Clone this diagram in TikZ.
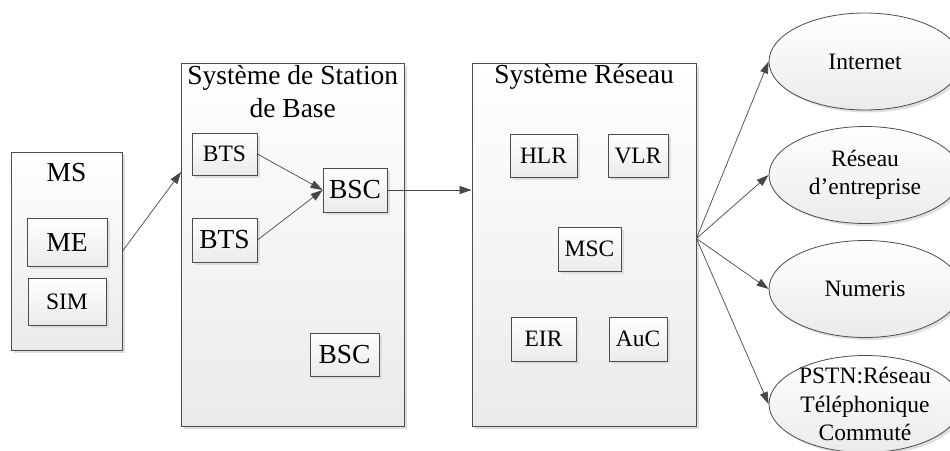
\documentclass[tikz,border=0pt]{standalone}
\usepackage{fontspec}
\setmainfont{Liberation Serif}
\usetikzlibrary{arrows.meta,shapes.geometric,shadows}

\begin{document}
\begin{tikzpicture}[x=1pt,y=1pt]
    \tikzstyle{every node}+=[inner sep=0pt]
    \tikzstyle{bigfont}=[font=\fontsize{27.5}{33}\selectfont]
    \tikzstyle{smallfont}=[font=\fontsize{23.5}{28.2}\selectfont]
    \tikzstyle{shaded}=[draw=black!70, line width=0.8pt, top color=white, bottom color=black!8,
      drop shadow={shadow xshift=2.5pt, shadow yshift=-2.5pt, fill=black!13, opacity=1}]
    \tikzstyle{unit}=[shaded, rectangle]
    \tikzstyle{cloud}=[shaded, ellipse, minimum width=192pt, minimum height=97pt]
    \tikzstyle{link}=[draw=black!72, line width=0.7pt, -{Triangle[length=12pt,width=8pt]}]
    \useasboundingbox (0,0) rectangle (950,-450);
    \node [unit, minimum width=111pt, minimum height=197.5pt] (ms) at (66.5,-251.25) {};
    \node [bigfont, anchor=base] (mstitle) at (66.5,-181.5) {MS};
    \node [unit, bigfont, minimum width=80pt, minimum height=48pt] (me) at (67,-242) {ME};
    \node [unit, smallfont, minimum width=78pt, minimum height=47pt] (sim) at (67,-301.5) {SIM};
    \node [unit, minimum width=222.5pt, minimum height=363pt] (bss) at (292.75,-244.5) {};
    \node [bigfont, align=center, anchor=north] (bsstitle) at (292.75,-65) {Système de Station\\de Base};
    \node [unit, smallfont, minimum width=65pt, minimum height=42pt] (bts1) at (224.5,-154) {BTS};
    \node [unit, bigfont, minimum width=65pt, minimum height=44pt] (bts2) at (224.5,-240) {BTS};
    \node [unit, bigfont, minimum width=64pt, minimum height=44pt] (bsc1) at (355,-190) {BSC};
    \node [unit, bigfont, minimum width=69pt, minimum height=43pt] (bsc2) at (344.5,-354.5) {BSC};
    \node [unit, minimum width=224pt, minimum height=363pt] (net) at (584,-244.5) {};
    \node [bigfont, anchor=base] (nettitle) at (584,-83) {Système Réseau};
    \node [unit, smallfont, minimum width=67pt, minimum height=43pt] (hlr) at (543.5,-155.5) {HLR};
    \node [unit, smallfont, minimum width=60pt, minimum height=43pt] (vlr) at (638,-155.5) {VLR};
    \node [unit, smallfont, minimum width=63pt, minimum height=44pt] (msc) at (589.5,-249) {MSC};
    \node [unit, smallfont, minimum width=65pt, minimum height=44pt] (eir) at (543.5,-339) {EIR};
    \node [unit, smallfont, minimum width=58pt, minimum height=44pt] (auc) at (638,-339) {AuC};
    \node [cloud, label={[smallfont]center:Internet}] (inet) at (865,-61.5) {};
    \node [cloud, label={[smallfont, align=center]center:Réseau\\d’entreprise}] (lan) at (865,-175) {};
    \node [cloud, label={[smallfont]center:Numeris}] (numeris) at (865,-289) {};
    \node [cloud, label={[smallfont, align=center]center:PSTN:Réseau\\Téléphonique\\Commuté}] (pstn) at (865,-404) {};
    \draw [link] (ms.east) -- ([yshift=72.5pt]bss.west);
    \draw [link] (bts1.east) -- (bsc1.west);
    \draw [link] (bts2.east) -- (bsc1.west);
    \draw [link] (bsc1.east) -- (net.west |- bsc1.east);
    \coordinate (hub) at ([yshift=6pt]net.east);
    \draw [link] (hub) -- (inet.west);
    \draw [link] (hub) -- (lan.west);
    \draw [link] (hub) -- (numeris.west);
    \draw [link] (hub) -- (pstn.west);
\end{tikzpicture}
\end{document}
